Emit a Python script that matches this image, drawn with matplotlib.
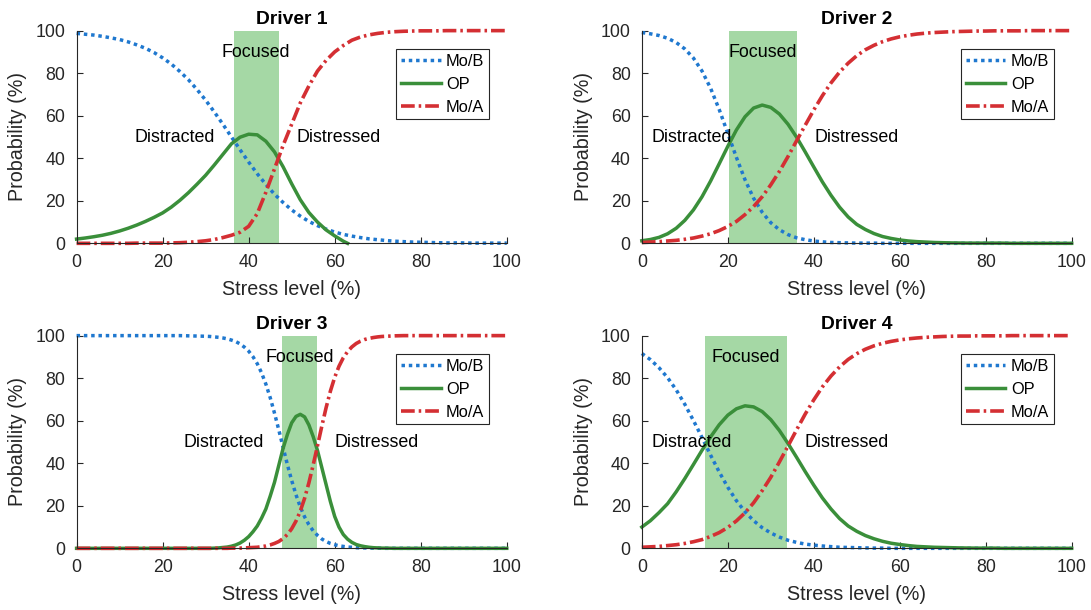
import numpy as np
import matplotlib.pyplot as plt

plt.rcParams['font.family'] = ['Liberation Sans', 'DejaVu Sans']

# stress level grid (%), every 2 points
stress = list(range(0, 101, 2))
# driver 3 is steep, so it is read every point between 30 and 72
stress_3 = list(range(0, 30, 2)) + list(range(30, 73)) + list(range(74, 101, 2))

titles = ['Driver 1', 'Driver 2', 'Driver 3', 'Driver 4']

# Driver 1
mob_1 = [98.7, 98.3, 97.9, 97.3, 96.6, 95.8, 94.7, 93.3, 91.7, 89.7, 87.2, 84.3, 80.8, 76.9, 72.3, 67.3,
         61.8, 56.0, 50.0, 44.0, 38.2, 32.7, 27.7, 23.1, 19.2, 15.7, 12.8, 10.3, 8.3, 6.7, 5.3, 4.2,
         3.4, 2.7, 2.1, 1.7, 1.3, 1.0, 0.8, 0.6, 0.5, 0.4, 0.3, 0.2, 0.2, 0.2, 0.1, 0.1, 0.1, 0.1, 0.1]
mod_1 = [0.0, 0.0, 0.0, 0.0, 0.0, 0.0, 0.0, 0.1, 0.1, 0.1, 0.1, 0.2, 0.3, 0.5, 0.8, 1.2,
         1.8, 2.7, 3.8, 5.2, 8.0, 14.0, 24.0, 35.0, 46.0, 56.0, 66.0, 74.0, 81.0, 86.0, 90.0, 93.0,
         95.5, 97.0, 98.0, 98.7, 99.2, 99.5, 99.7, 99.8, 99.9, 99.9, 99.9, 100.0, 100.0, 100.0, 100.0, 100.0,
         100.0, 100.0, 100.0]
# OP for driver 1 drops below the axis after ~63 %
op_1_x = list(range(0, 63, 2)) + [63]
op_1 = [2.0, 2.5, 3.1, 3.8, 4.7, 5.8, 7.1, 8.6, 10.3, 12.2, 14.3, 17.0, 20.2, 23.8, 27.8, 32.0,
        36.8, 41.8, 46.8, 49.9, 51.3, 51.0, 48.0, 43.0, 36.0, 28.0, 20.5, 14.5, 10.0, 6.3, 3.5, 1.0, 0.0]

# Driver 2
mob_2 = [99.1, 98.5, 97.7, 96.4, 94.4, 91.4, 87.1, 81.0, 72.9, 62.9, 51.7, 40.4, 29.9, 21.2, 14.6, 9.7,
         6.4, 4.1, 2.6, 1.7, 1.1, 0.7, 0.4, 0.3, 0.2, 0.1, 0.1, 0.1, 0.0, 0.0, 0.0, 0.0,
         0.0, 0.0, 0.0, 0.0, 0.0, 0.0, 0.0, 0.0, 0.0, 0.0, 0.0, 0.0, 0.0, 0.0, 0.0, 0.0, 0.0, 0.0, 0.0]
mod_2 = [0.4, 0.6, 0.8, 1.1, 1.4, 1.9, 2.5, 3.4, 4.5, 6.0, 7.9, 10.3, 13.5, 17.3, 21.9, 27.5,
         33.8, 40.8, 48.2, 55.5, 62.7, 69.4, 75.4, 80.5, 84.7, 88.2, 91.0, 93.1, 94.8, 96.1, 97.1, 97.8,
         98.4, 98.8, 99.1, 99.3, 99.5, 99.6, 99.7, 99.8, 99.8, 99.9, 99.9, 99.9, 99.9, 100.0, 100.0, 100.0,
         100.0, 100.0, 100.0]
op_2 = [1.2, 1.8, 2.8, 4.5, 7.1, 10.8, 15.7, 21.9, 29.3, 37.4, 45.6, 53.3, 59.5, 63.6, 65.0, 63.9,
        60.8, 56.0, 49.9, 43.0, 35.9, 28.9, 22.6, 17.0, 12.4, 8.9, 6.5, 4.6, 3.2, 2.3, 1.6, 1.1,
        0.8, 0.6, 0.4, 0.3, 0.2, 0.15, 0.1, 0.1, 0.1, 0.1, 0.1, 0.0, 0.0, 0.0, 0.0, 0.0, 0.0, 0.0, 0.0]

# Driver 3 (on stress_3)
mob_3 = [100.0, 100.0, 100.0, 100.0, 100.0, 100.0, 100.0, 100.0, 100.0, 100.0, 100.0, 100.0, 100.0, 99.9, 99.8,
         99.7, 99.6, 99.4, 99.2, 98.9, 98.5, 97.9, 97.2, 96.1, 94.6, 92.7, 90.1, 86.8, 82.5, 77.2, 70.9,
         63.6, 55.7, 47.5, 39.4, 31.9, 25.2, 19.5, 14.8, 11.1, 8.2, 6.1, 4.4, 3.2, 2.3, 1.7, 1.2,
         0.9, 0.6, 0.5, 0.3, 0.2, 0.2, 0.1, 0.1, 0.1, 0.0, 0.0,
         0.0, 0.0, 0.0, 0.0, 0.0, 0.0, 0.0, 0.0, 0.0, 0.0, 0.0, 0.0, 0.0, 0.0]
mod_3 = [0.0, 0.0, 0.0, 0.0, 0.0, 0.0, 0.0, 0.0, 0.0, 0.0, 0.0, 0.0, 0.0, 0.0, 0.0,
         0.0, 0.0, 0.0, 0.0, 0.0, 0.0, 0.1, 0.1, 0.1, 0.2, 0.3, 0.4, 0.5, 0.8, 1.1, 1.6,
         2.3, 3.2, 4.6, 6.5, 9.2, 12.8, 17.5, 23.5, 30.8, 39.2, 48.2, 57.4, 66.1, 73.9, 80.4, 85.6,
         89.6, 92.5, 94.7, 96.3, 97.4, 98.2, 98.7, 99.1, 99.4, 99.6, 99.7,
         99.9, 100.0, 100.0, 100.0, 100.0, 100.0, 100.0, 100.0, 100.0, 100.0, 100.0, 100.0, 100.0, 100.0]
op_3 = [0.0, 0.0, 0.0, 0.0, 0.0, 0.0, 0.0, 0.0, 0.0, 0.0, 0.0, 0.0, 0.0, 0.0, 0.0,
        0.0, 0.0, 0.1, 0.2, 0.4, 0.6, 1.0, 1.6, 2.5, 3.8, 5.5, 7.8, 10.5, 14.2, 18.5, 24.5,
        31.0, 39.0, 47.0, 53.5, 59.0, 62.0, 63.0, 61.8, 58.0, 52.5, 46.0, 38.0, 30.0, 22.0, 15.0, 10.0,
        6.5, 4.3, 2.8, 1.8, 1.2, 0.8, 0.5, 0.3, 0.2, 0.1, 0.1,
        0.0, 0.0, 0.0, 0.0, 0.0, 0.0, 0.0, 0.0, 0.0, 0.0, 0.0, 0.0, 0.0, 0.0]

# Driver 4
mob_4 = [91.6, 88.7, 84.9, 80.2, 74.5, 67.7, 60.1, 52.1, 43.8, 35.9, 28.7, 22.4, 17.2, 13.0, 9.7, 7.2,
         5.3, 3.8, 2.8, 2.0, 1.5, 1.1, 0.8, 0.5, 0.4, 0.3, 0.2, 0.1, 0.1, 0.0, 0.0, 0.0,
         0.0, 0.0, 0.0, 0.0, 0.0, 0.0, 0.0, 0.0, 0.0, 0.0, 0.0, 0.0, 0.0, 0.0, 0.0, 0.0, 0.0, 0.0, 0.0]
mod_4 = [0.5, 0.7, 0.9, 1.3, 1.7, 2.3, 3.1, 4.1, 5.6, 7.4, 9.8, 12.9, 16.7, 21.4, 27.1, 33.4,
         40.6, 48.1, 55.7, 63.1, 69.8, 75.9, 81.0, 85.3, 88.8, 91.5, 93.6, 95.2, 96.4, 97.3, 98.0, 98.5,
         98.9, 99.2, 99.4, 99.6, 99.7, 99.8, 99.8, 99.9, 99.9, 99.9, 99.9, 100.0, 100.0, 100.0, 100.0, 100.0,
         100.0, 100.0, 100.0]
op_4 = [10.0, 13.0, 16.8, 21.0, 26.6, 32.8, 39.4, 46.1, 52.4, 58.1, 62.6, 65.6, 67.0, 66.5, 64.3, 60.5,
        55.4, 49.3, 42.8, 36.1, 29.7, 23.7, 18.5, 14.0, 10.5, 8.0, 6.0, 4.5, 3.3, 2.4, 1.8, 1.3,
        0.9, 0.7, 0.5, 0.4, 0.3, 0.2, 0.15, 0.1, 0.1, 0.1, 0.0, 0.0, 0.0, 0.0, 0.0, 0.0, 0.0, 0.0, 0.0]

# focused band (stress range) for each driver
focus_lo = [36.5, 20.3, 47.8, 14.7]
focus_hi = [47.0, 36.0, 55.9, 33.8]
# where the "Distracted" label ends
distracted_end = [32.1, 21.0, 43.5, 21.0]

x_all = [stress, stress, stress_3, stress]
mob_all = [mob_1, mob_2, mob_3, mob_4]
mod_all = [mod_1, mod_2, mod_3, mod_4]
op_all = [op_1, op_2, op_3, op_4]
op_x_all = [op_1_x, stress, stress_3, stress]

blue = '#1f78cf'
green = '#3a8f3a'
red = '#d42f33'
shade = '#a5d8a5'
dark = '#262626'

fig = plt.figure(figsize=(10.91, 6.10), dpi=100)
boxes = [[0.0702, 0.6011, 0.3943, 0.3487], [0.5883, 0.6011, 0.3940, 0.3487],
         [0.0702, 0.1011, 0.3943, 0.3487], [0.5883, 0.1011, 0.3940, 0.3487]]

for i in range(4):
    ax = fig.add_axes(boxes[i])
    ax.axvspan(focus_lo[i], focus_hi[i], color=shade, lw=0, zorder=0)
    # lines sitting on 0 or 100 are drawn whole, not cut by the axes edge
    ax.plot(x_all[i], mob_all[i], color=blue, lw=2.5, linestyle=(0, (1, 1.1)), label='Mo/B', clip_on=False)
    ax.plot(op_x_all[i], op_all[i], color=green, lw=2.5, label='OP', clip_on=False)
    ax.plot(x_all[i], mod_all[i], color=red, lw=2.6, linestyle=(0, (3.8, 1.1, 0.7, 1.1)), label='Mo/A',
            clip_on=False)

    ax.text((focus_lo[i] + focus_hi[i]) / 2, 89.5, 'Focused', ha='center', va='center', fontsize=12.9)
    ax.text(distracted_end[i], 49.7, 'Distracted', ha='right', va='center', fontsize=12.9)
    ax.text(focus_hi[i] + 4.1, 49.7, 'Distressed', ha='left', va='center', fontsize=12.9)

    ax.set_xlim(0, 100)
    ax.set_ylim(0, 100)
    ax.set_xticks(range(0, 101, 20))
    ax.set_yticks(range(0, 101, 20))
    ax.spines['top'].set_visible(False)
    ax.spines['right'].set_visible(False)
    for s in ['left', 'bottom']:
        ax.spines[s].set_color(dark)
        ax.spines[s].set_linewidth(0.8)
    ax.tick_params(direction='in', length=4, width=0.8, colors=dark, labelsize=12.8, pad=8)
    ax.set_xlabel('Stress level (%)', fontsize=14.2, color=dark, labelpad=6)
    ax.set_ylabel('Probability (%)', fontsize=14.2, color=dark, labelpad=6)
    ax.set_title(titles[i], fontsize=13.9, fontweight='bold', pad=5)

    leg = ax.legend(loc='upper right', bbox_to_anchor=(0.9596, 0.9126), borderaxespad=0,
                    fontsize=11.8, fancybox=False, framealpha=1, edgecolor=dark,
                    handlelength=2.42, handletextpad=0.34, labelspacing=0.47, borderpad=0.3)
    leg.get_frame().set_linewidth(0.8)

fig.savefig('out.png', dpi=100)
